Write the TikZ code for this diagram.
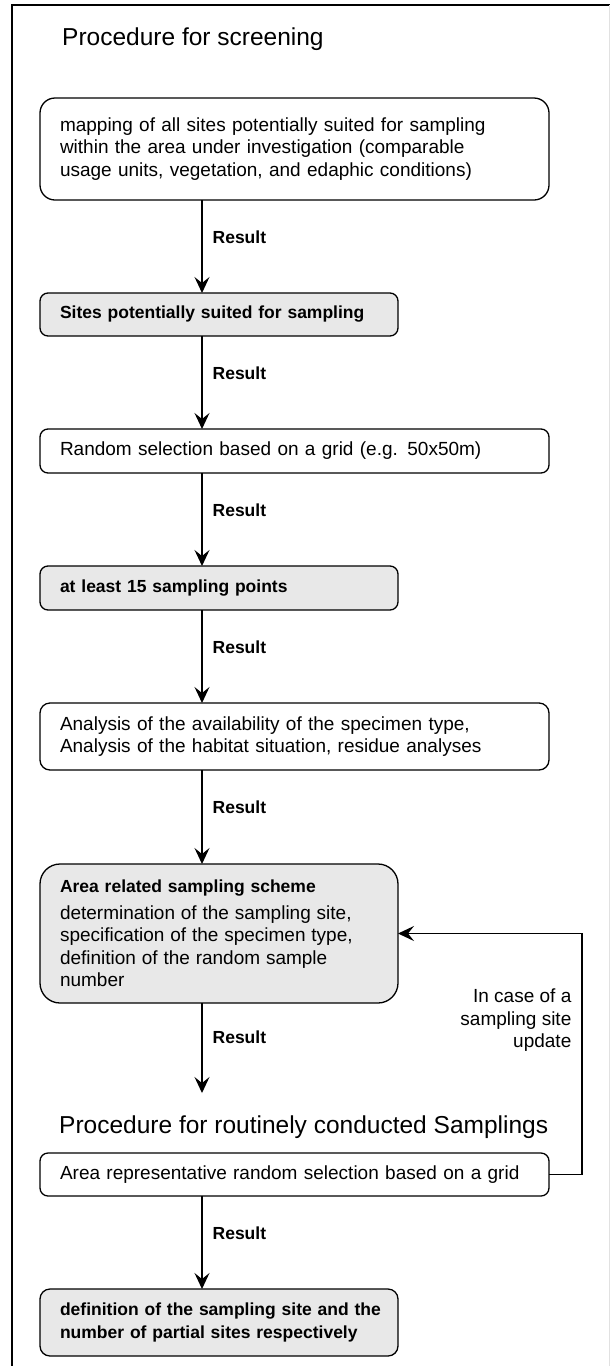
\documentclass[tikz,border=0pt]{standalone}
\usepackage{fontspec}
\setmainfont{Liberation Sans}
\usepackage{xcolor}
\usepackage{tikz}
\usetikzlibrary{arrows.meta, positioning, calc}
\definecolor{boxgray}{RGB}{232,232,232}
\definecolor{edgegray}{RGB}{225,225,225}
\newcommand\boxfont{\fontsize{19}{22.5}\selectfont}
\newcommand\boldfont{\fontsize{17.5}{22.5}\selectfont\bfseries}
\newcommand\headfont{\fontsize{24.5}{28}\selectfont}

\begin{document}
\begin{tikzpicture}[
    x=1pt, y=-1pt,
    stage/.style={rectangle, draw, line width=1.3pt, rounded corners=8pt, inner xsep=20pt, inner ysep=0pt, outer sep=0pt, align=left},
    plain/.style={stage, fill=white, font=\boxfont},
    outcome/.style={stage, fill=boxgray, font=\boldfont},
    wide/.style={minimum width=509pt, text width=469pt},
    narrow/.style={minimum width=358pt, text width=318pt},
    heading/.style={font=\headfont, inner sep=0pt, anchor=base west},
    flow/.style={-{Stealth[length=16pt, width=15pt, inset=6pt]}, line width=1.3pt},
    result/.style={font=\boldfont, inner sep=0pt, anchor=west, xshift=10pt}
]
\useasboundingbox (0,0) rectangle (610,1366);

% outer frame
\draw[line width=1.5pt] (12,1366) -- (12,5) -- (610,5);
\draw[line width=1pt, edgegray] (609,5) -- (609,1366);

\node[heading] (screen) at (62,45) {Procedure for screening};

\node[plain, wide, minimum height=102pt, rounded corners=15pt, anchor=north west] (mapping) at (40,98) {
    mapping of all sites potentially suited for sampling\\
    within the area under investigation (comparable\\
    usage units, vegetation, and edaphic conditions)
};

\node[outcome, narrow, minimum height=43pt, below=93pt of mapping.south west, anchor=north west] (sites) {
    Sites potentially suited for sampling
};

\node[plain, wide, minimum height=44pt, below=93pt of sites.south west, anchor=north west] (grid) {
    Random selection based on a grid (e.g. 50x50m)
};

\node[outcome, narrow, minimum height=44pt, below=93pt of grid.south west, anchor=north west] (points) {
    at least 15 sampling points
};

\node[plain, wide, minimum height=67pt, rounded corners=10pt, below=93pt of points.south west, anchor=north west] (analysis) {
    Analysis of the availability of the specimen type,\\
    Analysis of the habitat situation, residue analyses
};

\node[outcome, narrow, minimum height=139pt, rounded corners=20pt, below=94pt of analysis.south west, anchor=north west] (scheme) {
    Area related sampling scheme\\[4pt]
    \boxfont\mdseries determination of the sampling site,\\
    \boxfont\mdseries specification of the specimen type,\\
    \boxfont\mdseries definition of the random sample\\
    \boxfont\mdseries number
};

\node[plain, wide, minimum height=43pt, below=150pt of scheme.south west, anchor=north west] (routine) {
    Area representative random selection based on a grid
};

\node[heading] (routinehead) at ($(routine.north west)+(19,-20)$) {Procedure for routinely conducted Samplings};

\node[outcome, narrow, minimum height=67pt, rounded corners=10pt, below=93pt of routine.south west, anchor=north west] (final) {
    \mbox{definition of the sampling site and the}\\
    \mbox{number of partial sites respectively}
};

\coordinate (schemeend) at ($(scheme.south west)+(162,90)$);

% arrows down the chain
\draw[flow] ($(mapping.south west)+(162,0)$) -- node[pos=0.4, result] {Result} ($(sites.north west)+(162,0)$);
\draw[flow] ($(sites.south west)+(162,0)$) -- node[pos=0.4, result] {Result} ($(grid.north west)+(162,0)$);
\draw[flow] ($(grid.south west)+(162,0)$) -- node[pos=0.4, result] {Result} ($(points.north west)+(162,0)$);
\draw[flow] ($(points.south west)+(162,0)$) -- node[pos=0.4, result] {Result} ($(analysis.north west)+(162,0)$);
\draw[flow] ($(analysis.south west)+(162,0)$) -- node[pos=0.4, result] {Result} ($(scheme.north west)+(162,0)$);
\draw[flow] ($(scheme.south west)+(162,0)$) -- node[pos=0.38, result] {Result} (schemeend);
\draw[flow] ($(routine.south west)+(162,0)$) -- node[pos=0.4, result] {Result} ($(final.north west)+(162,0)$);

% feedback loop
\draw[flow] (routine.east) -- ++(33,0) |- node[pos=0.32, anchor=east, xshift=-10pt, font=\boxfont, align=right, inner sep=0pt] {In case of a\\sampling site\\update} (scheme.east);

\end{tikzpicture}
\end{document}
